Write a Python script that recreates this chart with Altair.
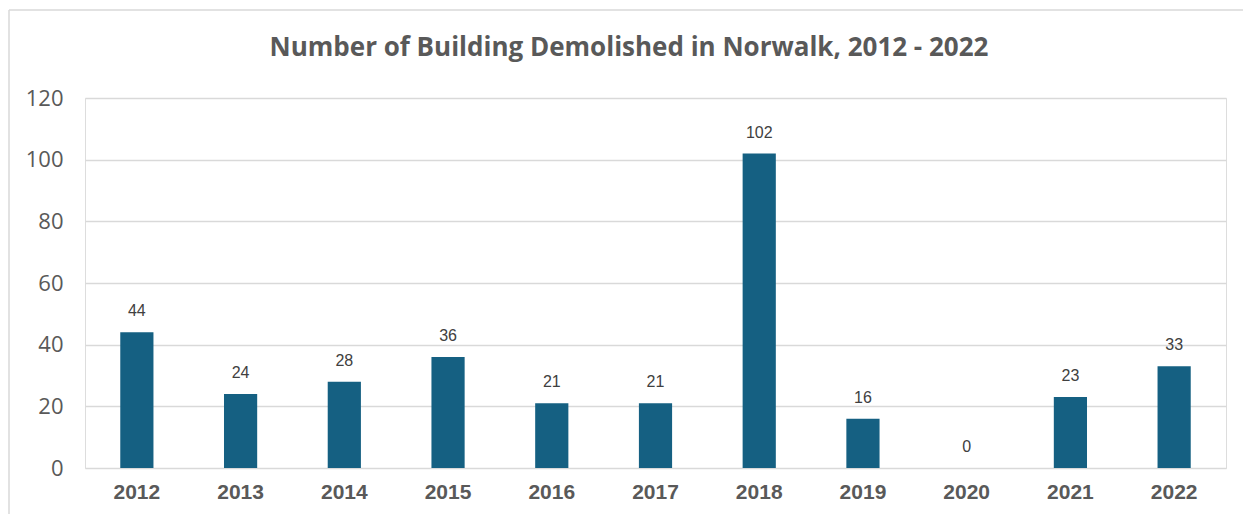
import altair as alt
import pandas as pd

years = ["2012", "2013", "2014", "2015", "2016", "2017", "2018", "2019", "2020", "2021", "2022"]
demolished = [44, 24, 28, 36, 21, 21, 102, 16, 0, 23, 33]
y_ticks = [0, 20, 40, 60, 80, 100, 120]
title_text = ["Number of Building Demolished in Norwalk, 2012 - 2022"]

df = pd.DataFrame({"year": years, "count": demolished})
tdf = pd.DataFrame({"t": title_text})

W, H = 1141, 370

base = alt.Chart(df).encode(
    x=alt.X("year:N", sort=years,
            scale=alt.Scale(paddingInner=0.68, paddingOuter=0.34),
            axis=alt.Axis(title=None, labelAngle=0, labelFont="Liberation Sans",
                          labelFontSize=21, labelFontWeight="bold", labelColor="#595959",
                          labelPadding=13, ticks=False, domain=False, grid=False)),
)

bars = base.mark_bar(color="#156082").encode(
    y=alt.Y("count:Q", scale=alt.Scale(domain=[0, 120], nice=False),
            axis=alt.Axis(title=None, values=y_ticks, labelFont="Open Sans",
                          labelFontSize=22, labelColor="#595959", labelPadding=22,
                          ticks=False, domain=False, grid=True, gridColor="#d9d9d9",
                          gridWidth=1.3))
)

labels = base.mark_text(baseline="bottom", dy=-13, font="Liberation Sans",
                        fontSize=16, color="#404040").encode(
    y=alt.Y("count:Q"),
    text=alt.Text("count:Q"),
)

frame_top = alt.Chart(tdf).mark_rule(stroke="#d9d9d9", strokeWidth=1.5, clip=False).encode(
    x=alt.value(-76), x2=alt.value(1200), y=alt.value(-88)
)
frame_left = alt.Chart(tdf).mark_rule(stroke="#d9d9d9", strokeWidth=1.5, clip=False).encode(
    x=alt.value(-76), y=alt.value(-88), y2=alt.value(460)
)

title = alt.Chart(tdf).mark_text(font="Open Sans", fontSize=26, fontWeight="bold",
                                 color="#595959", align="center", baseline="alphabetic").encode(
    x=alt.value(544), y=alt.value(-42), text="t:N"
)

chart = alt.layer(frame_top, frame_left, bars, labels, title).properties(
    width=W, height=H,
    autosize=alt.AutoSizeParams(type="none"),
    padding={"left": 77, "top": 90, "right": 17, "bottom": 46},
).configure_view(stroke=None).configure(background="white")

chart.save("out.html", embed_options={"renderer": "svg", "actions": False})
